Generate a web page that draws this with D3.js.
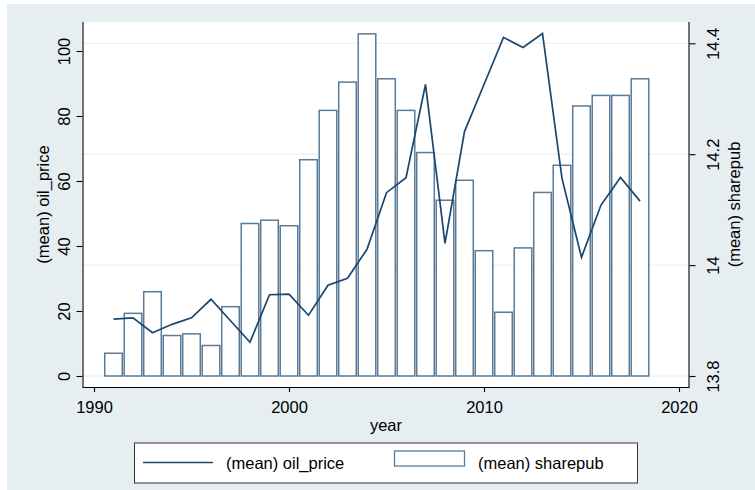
<!DOCTYPE html>
<html><head><meta charset="utf-8">
<script src="https://cdn.jsdelivr.net/npm/d3@7"></script>
<style>body{margin:0;background:#fff;}svg{display:block;font-family:"Liberation Sans",Arial,sans-serif;}</style>
</head><body>
<script>
const years = [1991,1992,1993,1994,1995,1996,1997,1998,1999,2000,2001,2002,2003,2004,2005,2006,2007,2008,2009,2010,2011,2012,2013,2014,2015,2016,2017,2018];
const oilPrice = [17.5,17.9,13.3,15.9,17.9,23.6,17.0,10.4,25.0,25.2,18.7,27.9,30.1,39.0,56.4,61.0,89.7,40.8,75.2,89.7,104.2,101.1,105.4,60.8,36.5,52.6,61.1,53.8];
const sharepub = [13.841,13.913,13.952,13.873,13.876,13.855,13.925,14.075,14.081,14.071,14.190,14.279,14.330,14.417,14.336,14.279,14.203,14.117,14.153,14.026,13.915,14.031,14.131,14.180,14.287,14.306,14.306,14.336];
const xTicks = [1990,2000,2010,2020];
const yLeftTicks = [0,20,40,60,80,100];
const yRightTicks = [13.8,14,14.2,14.4];

const W=755,H=490;
const svg=d3.select("body").append("svg").attr("width",W).attr("height",H);
svg.append("rect").attr("x",7).attr("y",4).attr("width",W-7).attr("height",H-4).attr("fill","#e6eef1");
const L=82.5,R=689.5,T=22,B=387;
svg.append("rect").attr("x",L).attr("y",T).attr("width",R-L).attr("height",B-T).attr("fill","#fff");

const x=d3.scaleLinear().domain([1990,2020]).range([94,679]);
const yL=d3.scaleLinear().domain([0,100]).range([376,51]);
const yR=d3.scaleLinear().domain([13.8,14.4]).range([376,43.3]);
const navy="#1a476f";

// gridlines (right axis)
svg.append("g").selectAll("line").data(yRightTicks).join("line")
 .attr("x1",L).attr("x2",R).attr("y1",d=>yR(d)).attr("y2",d=>yR(d))
 .attr("stroke","#eaf2f3").attr("stroke-width",1.2);

// bars
const bw=(x(1991)-x(1990))*0.9;
svg.append("g").selectAll("rect").data(years).join("rect")
 .attr("x",(d)=>x(d)-bw/2).attr("width",bw)
 .attr("y",(d,i)=>yR(sharepub[i])).attr("height",(d,i)=>yR(13.8)-yR(sharepub[i]))
 .attr("fill","#fff").attr("stroke",navy).attr("stroke-opacity",0.72).attr("stroke-width",1.5);

// line
const line=d3.line().x((d,i)=>x(years[i])).y(d=>yL(d));
svg.append("path").datum(oilPrice).attr("d",line).attr("fill","none").attr("stroke",navy).attr("stroke-width",1.7).attr("stroke-linejoin","miter");

// axes
const fs=16.5;
const gx=svg.append("g").attr("transform",`translate(0,${B})`).call(d3.axisBottom(x).tickValues(xTicks).tickSize(5).tickFormat(d3.format("d")));
const gl=svg.append("g").attr("transform",`translate(${L},0)`).call(d3.axisLeft(yL).tickValues(yLeftTicks).tickSize(6).tickFormat(d3.format("d")));
const gr=svg.append("g").attr("transform",`translate(${R},0)`).call(d3.axisRight(yR).tickValues(yRightTicks).tickSize(6).tickFormat(d=>d3.format("")(+d.toFixed(1))));
[gx,gl,gr].forEach(g=>{g.select(".domain").attr("stroke","#000").attr("stroke-width",1.1);g.selectAll(".tick line").attr("stroke","#000").attr("stroke-width",1.1);g.selectAll("text").attr("font-size",fs).attr("fill","#000").attr("font-family","Liberation Sans, Arial, sans-serif");});
gx.select(".domain").attr("d",`M${L},0.5H${R}`);
gl.select(".domain").attr("d",`M0.5,${T}V${B}`);
gr.select(".domain").attr("d",`M-0.5,${T}V${B}`);
gx.selectAll("text").attr("y",14).attr("dy","0.71em");
gl.selectAll(".tick text").attr("x",null).attr("dy",null).attr("text-anchor","middle").attr("transform","translate(-15,0) rotate(-90)").attr("y",0).attr("dominant-baseline","auto");
gl.selectAll(".tick text").attr("transform","rotate(-90)").attr("x",0).attr("y",-13);
gr.selectAll(".tick text").attr("text-anchor","middle").attr("dy",null).attr("x",0).attr("y",-13).attr("transform","rotate(-90)");
gr.selectAll(".tick text").attr("x",0).attr("y",null);
gr.selectAll(".tick text").attr("transform","rotate(-90)").attr("y",12+18).attr("dy","-0.05em");

// titles
svg.append("text").attr("transform",`translate(49,${(T+B)/2}) rotate(-90)`).attr("text-anchor","middle").attr("font-size",fs).text("(mean) oil_price");
svg.append("text").attr("transform",`translate(740,${(T+B)/2}) rotate(-90)`).attr("text-anchor","middle").attr("font-size",fs).text("(mean) sharepub");
svg.append("text").attr("x",(L+R)/2).attr("y",431).attr("text-anchor","middle").attr("font-size",fs).text("year");

// legend
svg.append("rect").attr("x",134.5).attr("y",443).attr("width",503).attr("height",40).attr("fill","#fff").attr("stroke","#333").attr("stroke-width",1);
svg.append("line").attr("x1",143).attr("x2",213).attr("y1",462.5).attr("y2",462.5).attr("stroke",navy).attr("stroke-width",1.7);
svg.append("text").attr("x",226).attr("y",468.5).attr("font-size",fs).text("(mean) oil_price");
svg.append("rect").attr("x",394.5).attr("y",451).attr("width",70).attr("height",15).attr("fill","#fff").attr("stroke",navy).attr("stroke-opacity",0.72).attr("stroke-width",1.3);
svg.append("text").attr("x",478).attr("y",468.5).attr("font-size",fs).text("(mean) sharepub");
</script>
</body></html>
